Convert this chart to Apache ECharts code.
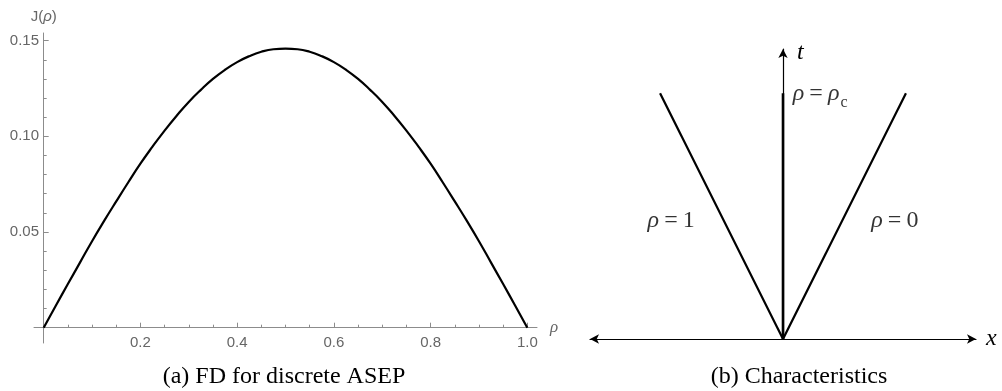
<!DOCTYPE html>
<html>
<head>
<meta charset="utf-8">
<script src="https://cdn.jsdelivr.net/npm/echarts@6/dist/echarts.min.js"></script>
<style>
    html, body { margin: 0; padding: 0; background: #fff; }
    #chart { width: 1002px; height: 391px; }
</style>
</head>
<body>
<div id="chart"></div>
<script>
    // (a) fundamental diagram
    var rhoValues = [0, 0.025, 0.05, 0.075, 0.1, 0.125, 0.15, 0.175, 0.2, 0.225, 0.25, 0.275, 0.3, 0.325, 0.35,
        0.375, 0.4, 0.425, 0.45, 0.475, 0.5, 0.525, 0.55, 0.575, 0.6, 0.625, 0.65, 0.675, 0.7, 0.725, 0.75,
        0.775, 0.8, 0.825, 0.85, 0.875, 0.9, 0.925, 0.95, 0.975, 1];
    var currentValues = [0, 0.0115, 0.0228, 0.0340, 0.0452, 0.0558, 0.0660, 0.0760, 0.0857, 0.0946, 0.1030,
        0.1108, 0.1180, 0.1243, 0.1300, 0.1348, 0.1388, 0.1419, 0.1442, 0.1455, 0.1458, 0.1455, 0.1442, 0.1419,
        0.1388, 0.1348, 0.1300, 0.1243, 0.1180, 0.1108, 0.1030, 0.0946, 0.0857, 0.0760, 0.0660, 0.0558, 0.0452,
        0.0340, 0.0228, 0.0115, 0];

    var xMajorTicks = [0.2, 0.4, 0.6, 0.8, 1.0];
    var xMinorTicks = [0.05, 0.1, 0.15, 0.25, 0.3, 0.35, 0.45, 0.5, 0.55, 0.65, 0.7, 0.75, 0.85, 0.9, 0.95];
    var yMajorTicks = [0.05, 0.10, 0.15];
    var yMinorTicks = [0.01, 0.02, 0.03, 0.04, 0.06, 0.07, 0.08, 0.09, 0.11, 0.12, 0.13, 0.14];

    // (b) characteristics, end points in (x, t)
    var rhoOneLine = [[0, 0], [-1, 1]];
    var rhoZeroLine = [[0, 0], [1, 1]];
    var rhoCLine = [[0, 0], [0, 1]];

    var fdData = rhoValues.map(function (r, i) { return [r, currentValues[i]]; });

    var gray = '#8c8c8c';
    var labelGray = '#666';
    var sans = 'Liberation Sans, Arial, sans-serif';
    var serif = 'Liberation Serif, Times New Roman, serif';

    var mathRich = {
        i: { fontFamily: serif, fontStyle: 'italic', fontSize: 24, color: '#000' },
        n: { fontFamily: serif, fontSize: 24, color: '#000' },
        e: { fontFamily: serif, fontSize: 24, color: '#000', padding: [0, 5, 0, 5] },
        s: { fontFamily: serif, fontSize: 16, color: '#000', verticalAlign: 'bottom', padding: [0, 0, -6, 1] }
    };

    // labels do not follow onZero, so margins are measured from the grid edge
    function plotXAxis(ticks, len, withLine) {
        return {
            type: 'value', gridIndex: 0, position: 'bottom',
            min: -0.02, max: 1.02,
            name: withLine ? 'ρ' : '',
            nameLocation: 'end', nameGap: 13,
            nameTextStyle: { fontFamily: serif, fontStyle: 'italic', fontSize: 17, color: labelGray, verticalAlign: 'middle' },
            axisLine: { show: withLine, onZero: true, lineStyle: { color: gray, width: 1 } },
            axisTick: { show: true, inside: true, length: len, customValues: ticks, lineStyle: { color: gray } },
            axisLabel: {
                show: withLine, customValues: xMajorTicks, margin: -8,
                color: labelGray, fontFamily: sans, fontSize: 15,
                formatter: function (v) { return v.toFixed(1); }
            },
            splitLine: { show: false }
        };
    }

    function plotYAxis(ticks, len, withLine) {
        return {
            type: 'value', gridIndex: 0, position: 'left',
            min: -0.008, max: 0.154,
            name: withLine ? '{n|J(}{i|ρ}{n|)}' : '',
            nameLocation: 'end', nameGap: 9,
            nameTextStyle: {
                verticalAlign: 'bottom',
                rich: {
                    n: { fontFamily: sans, fontSize: 15, color: labelGray },
                    i: { fontFamily: sans, fontStyle: 'italic', fontSize: 15, color: labelGray }
                }
            },
            axisLine: { show: withLine, onZero: true, lineStyle: { color: gray, width: 1 } },
            axisTick: { show: true, inside: true, length: len, customValues: ticks, lineStyle: { color: gray } },
            axisLabel: {
                show: withLine, customValues: yMajorTicks, margin: -5,
                color: labelGray, fontFamily: sans, fontSize: 15,
                formatter: function (v) { return v.toFixed(2); }
            },
            splitLine: { show: false }
        };
    }

    var myChart = echarts.init(document.getElementById('chart'));
    myChart.setOption({
        animation: false,
        backgroundColor: '#fff',
        grid: [
            { left: 34, width: 503, top: 33, height: 310 },
            { left: 590, width: 386, top: 49, height: 290 }
        ],
        xAxis: [
            plotXAxis(xMajorTicks, 5, true),
            plotXAxis(xMinorTicks, 3, false),
            {
                type: 'value', gridIndex: 1, min: -1.57, max: 1.57,
                name: 'x', nameLocation: 'end', nameGap: 10,
                nameTextStyle: { fontFamily: serif, fontStyle: 'italic', fontSize: 24, color: '#000', verticalAlign: 'middle' },
                axisLine: { onZero: true, symbol: ['arrow', 'arrow'], symbolSize: [7, 9], lineStyle: { color: '#000', width: 1.2 } },
                axisTick: { show: false }, axisLabel: { show: false }, splitLine: { show: false }
            }
        ],
        yAxis: [
            plotYAxis(yMajorTicks, 5, true),
            plotYAxis(yMinorTicks, 3, false),
            {
                type: 'value', gridIndex: 1, min: 0, max: 1.18,
                name: 't', nameLocation: 'end', nameGap: -4,
                nameTextStyle: { fontFamily: serif, fontStyle: 'italic', fontSize: 24, color: '#000', align: 'left', verticalAlign: 'middle', padding: [0, 0, 0, 14] },
                axisLine: { onZero: true, symbol: ['none', 'arrow'], symbolSize: [7, 9], lineStyle: { color: '#000', width: 1.2 } },
                axisTick: { show: false }, axisLabel: { show: false }, splitLine: { show: false }
            }
        ],
        series: [
            {
                name: 'J', type: 'line', xAxisIndex: 0, yAxisIndex: 0,
                data: fdData, smooth: true, symbol: 'none',
                lineStyle: { color: '#000', width: 2.2 }
            },
            {
                name: 'rho=1', type: 'line', xAxisIndex: 2, yAxisIndex: 2,
                data: rhoOneLine, symbol: 'none', lineStyle: { color: '#000', width: 2.2 }
            },
            {
                name: 'rho=0', type: 'line', xAxisIndex: 2, yAxisIndex: 2,
                data: rhoZeroLine, symbol: 'none', lineStyle: { color: '#000', width: 2.2 }
            },
            {
                name: 'rho=rhoc', type: 'line', xAxisIndex: 2, yAxisIndex: 2,
                data: rhoCLine, symbol: 'none', lineStyle: { color: '#000', width: 2.6 }
            },
            {
                // text next to the characteristics
                name: 'labels', type: 'scatter', xAxisIndex: 2, yAxisIndex: 2,
                symbolSize: 0, silent: true,
                label: { show: true, rich: mathRich },
                data: [
                    { value: [-0.91, 0.48], label: { position: 'inside', formatter: '{i|ρ}{e|=}{n|1}' } },
                    { value: [0.91, 0.48], label: { position: 'inside', formatter: '{i|ρ}{e|=}{n|0}' } },
                    { value: [0.08, 1.0], label: { position: 'right', distance: 0, formatter: '{i|ρ}{e|=}{i|ρ}{s|c}' } }
                ]
            }
        ],
        graphic: [
            {
                type: 'text', x: 284, y: 377,
                style: { text: '(a) FD for discrete ASEP', font: '24px ' + serif, fill: '#000', textAlign: 'center', textVerticalAlign: 'middle' }
            },
            {
                type: 'text', x: 799, y: 377,
                style: { text: '(b) Characteristics', font: '24px ' + serif, fill: '#000', textAlign: 'center', textVerticalAlign: 'middle' }
            }
        ]
    });
</script>
</body>
</html>
